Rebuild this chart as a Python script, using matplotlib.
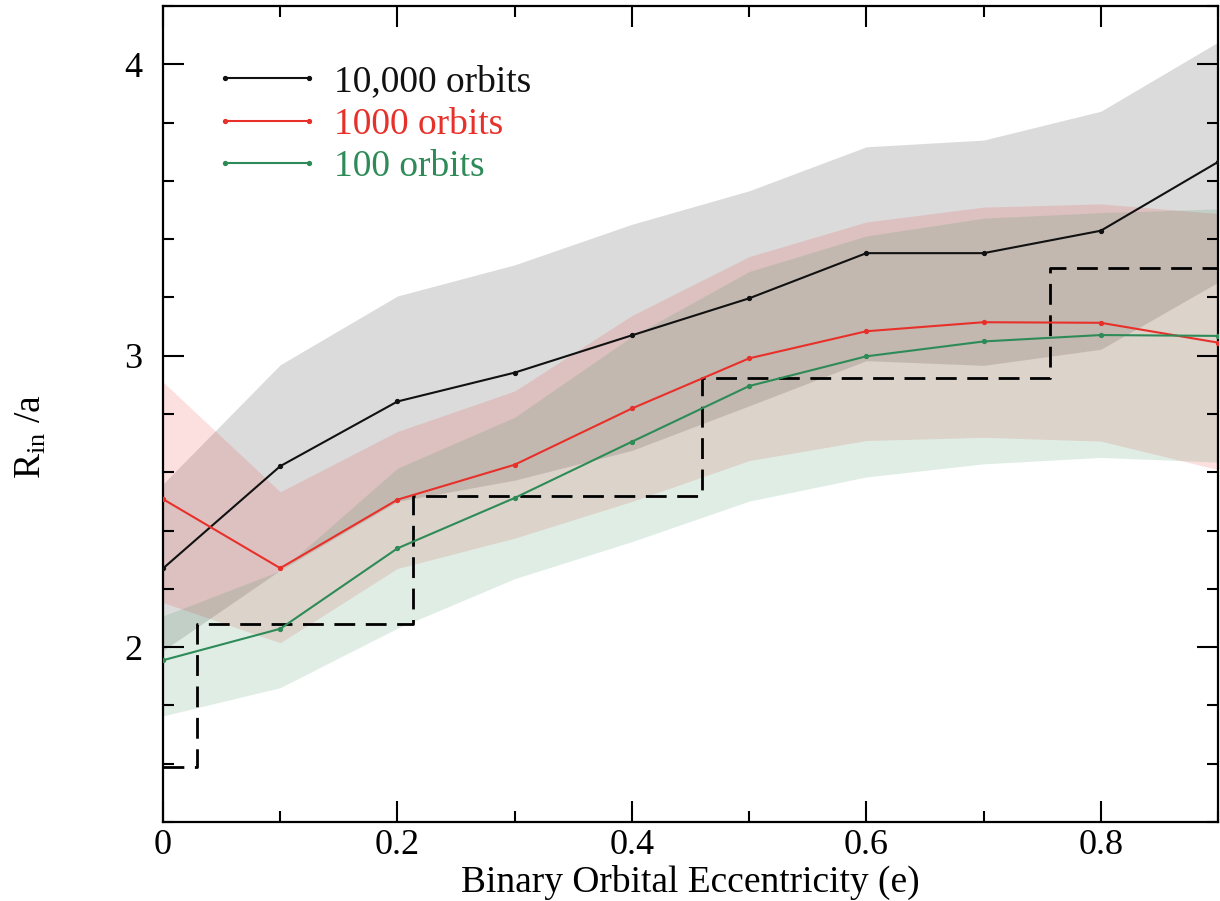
import numpy as np
import matplotlib
matplotlib.use("Agg")
import matplotlib.pyplot as plt
from matplotlib.ticker import MultipleLocator, FuncFormatter

# eccentricity grid
ecc = [0.0, 0.1, 0.2, 0.3, 0.4, 0.5, 0.6, 0.7, 0.8, 0.9]

# 10,000 orbits
r10000 = [2.270, 2.621, 2.843, 2.942, 3.070, 3.197, 3.352, 3.352, 3.429, 3.665]
r10000_hi = [2.560, 2.969, 3.205, 3.312, 3.451, 3.566, 3.717, 3.740, 3.839, 4.076]
r10000_lo = [1.988, 2.264, 2.500, 2.573, 2.675, 2.828, 2.983, 2.967, 3.022, 3.252]

# 1000 orbits
r1000 = [2.508, 2.271, 2.506, 2.626, 2.819, 2.991, 3.084, 3.115, 3.113, 3.045]
r1000_hi = [2.910, 2.533, 2.740, 2.879, 3.138, 3.340, 3.459, 3.510, 3.521, 3.488]
r1000_lo = [2.153, 2.015, 2.270, 2.374, 2.500, 2.640, 2.709, 2.720, 2.707, 2.609]

# 100 orbits
r100 = [1.955, 2.063, 2.339, 2.512, 2.705, 2.896, 2.998, 3.049, 3.071, 3.068]
r100_hi = [2.107, 2.262, 2.614, 2.789, 3.066, 3.289, 3.411, 3.472, 3.491, 3.504]
r100_lo = [1.764, 1.861, 2.065, 2.235, 2.362, 2.501, 2.584, 2.629, 2.651, 2.635]

# resonance step (dashed)
step_e = [0.0, 0.0294, 0.2136, 0.4596, 0.757, 0.9]
step_r = [1.587, 2.080, 2.520, 2.924, 3.302, 3.302]

series = [
    ("10,000 orbits", r10000, r10000_lo, r10000_hi, "#111111"),
    ("1000 orbits", r1000, r1000_lo, r1000_hi, "#e8302a"),
    ("100 orbits", r100, r100_lo, r100_hi, "#2e8b57"),
]

plt.rcParams["font.family"] = ["Liberation Serif", "DejaVu Serif"]
plt.rcParams["mathtext.fontset"] = "custom"
plt.rcParams["mathtext.rm"] = "Liberation Serif"
plt.rcParams["mathtext.it"] = "Liberation Serif:italic"

fig = plt.figure(figsize=(12.2, 9.01), dpi=100)
ax = fig.add_axes([0.1336, 0.0877, 0.8648, 0.9056])

# shaded ranges
for label, mean, lo, hi, color in series:
    ax.fill_between(ecc, lo, hi, color=color, alpha=0.15, linewidth=0, zorder=1)

# dashed resonance steps
ax.step(step_e, step_r, where="post", color="black", linewidth=2.0,
        dashes=(7.5, 3.8), zorder=2)

# mean lines
for label, mean, lo, hi, color in series:
    ax.plot(ecc, mean, color=color, linewidth=1.5, marker="o", markersize=2.8,
            label=label, zorder=3)

ax.set_xlim(0, 0.9)
ax.set_ylim(1.4, 4.2)

ax.xaxis.set_major_locator(MultipleLocator(0.2))
ax.xaxis.set_minor_locator(MultipleLocator(0.1))
ax.yaxis.set_major_locator(MultipleLocator(1))
ax.yaxis.set_minor_locator(MultipleLocator(0.2))
ax.xaxis.set_major_formatter(FuncFormatter(lambda v, p: "%g" % round(v, 3)))

ax.tick_params(which="both", direction="in", top=True, right=True,
               width=1.5, labelsize=26)
ax.tick_params(which="major", length=15)
ax.tick_params(which="minor", length=8)
ax.tick_params(axis="x", pad=5)
ax.tick_params(axis="y", pad=15)
for sp in ax.spines.values():
    sp.set_linewidth(1.6)

ax.set_xlabel("Binary Orbital Eccentricity (e)", fontsize=27, labelpad=2)
ax.set_ylabel(r"R$_{\mathrm{in}}$ /a", fontsize=27)
ax.yaxis.set_label_coords(-0.108, 0.472)

leg = ax.legend(loc="upper left", bbox_to_anchor=(0.016, 0.969), frameon=False,
                fontsize=27, handlelength=2.85, handletextpad=0.35,
                labelspacing=0.21, numpoints=2, labelcolor="linecolor")

fig.savefig("out.png", dpi=100)
